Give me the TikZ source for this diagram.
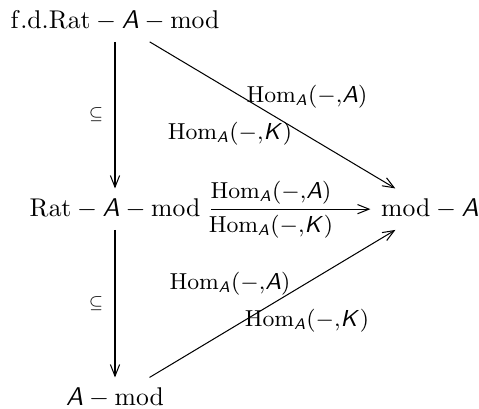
\documentclass[tikz,border=0pt]{standalone}
\usetikzlibrary{arrows.meta}
\DeclareMathAlphabet{\mathsfit}{OT1}{cmss}{m}{sl}
\newcommand{\sA}{\mathsfit{A}}
\newcommand{\sK}{\mathsfit{K}}
\newcommand{\HomA}[1]{\mathrm{Hom}_{\sA}(-{,}#1)}
\begin{document}
\begin{tikzpicture}[x=0.39pt,y=-0.39pt,
  obj/.style={inner sep=4pt, font=\fontsize{10}{12}\selectfont},
  lab/.style={inner sep=0pt, font=\fontsize{9}{11}\selectfont},
  arr/.style={-{Straight Barb[length=4.5pt,width=3.6pt]}, line width=0.4pt}]
\useasboundingbox (0,0) rectangle (479,409);
\node[obj, anchor=base] (T) at (115,29) {$\mathrm{f.d.Rat}-\sA-\mathrm{mod}$};
\node[obj, anchor=base] (M) at (115,217) {$\mathrm{Rat}-\sA-\mathrm{mod}$};
\node[obj, anchor=base] (R) at (430,217) {$\mathrm{mod}-\sA$};
\node[obj, anchor=base] (B) at (115,406) {$\sA-\mathrm{mod}$};
\draw[arr] (T) -- (M);
\draw[arr] (M) -- (B);
\draw[arr] (M) -- (R);
\draw[arr] (T) -- (R);
\draw[arr] (B) -- (R);
\node[lab] (h1) at (271,193) {$\HomA{\sA}$};
\node[lab] (h2) at (271,227) {$\HomA{\sK}$};
\node[lab] (t1) at (307,97) {$\HomA{\sA}$};
\node[lab] (t2) at (230,134) {$\HomA{\sK}$};
\node[lab] (b1) at (230,284) {$\HomA{\sA}$};
\node[lab] (b2) at (307,321) {$\HomA{\sK}$};
\node[lab] (s1) at (96,115) {$\scriptstyle\subseteq$};
\node[lab] (s2) at (96,304) {$\scriptstyle\subseteq$};
\end{tikzpicture}
\end{document}
